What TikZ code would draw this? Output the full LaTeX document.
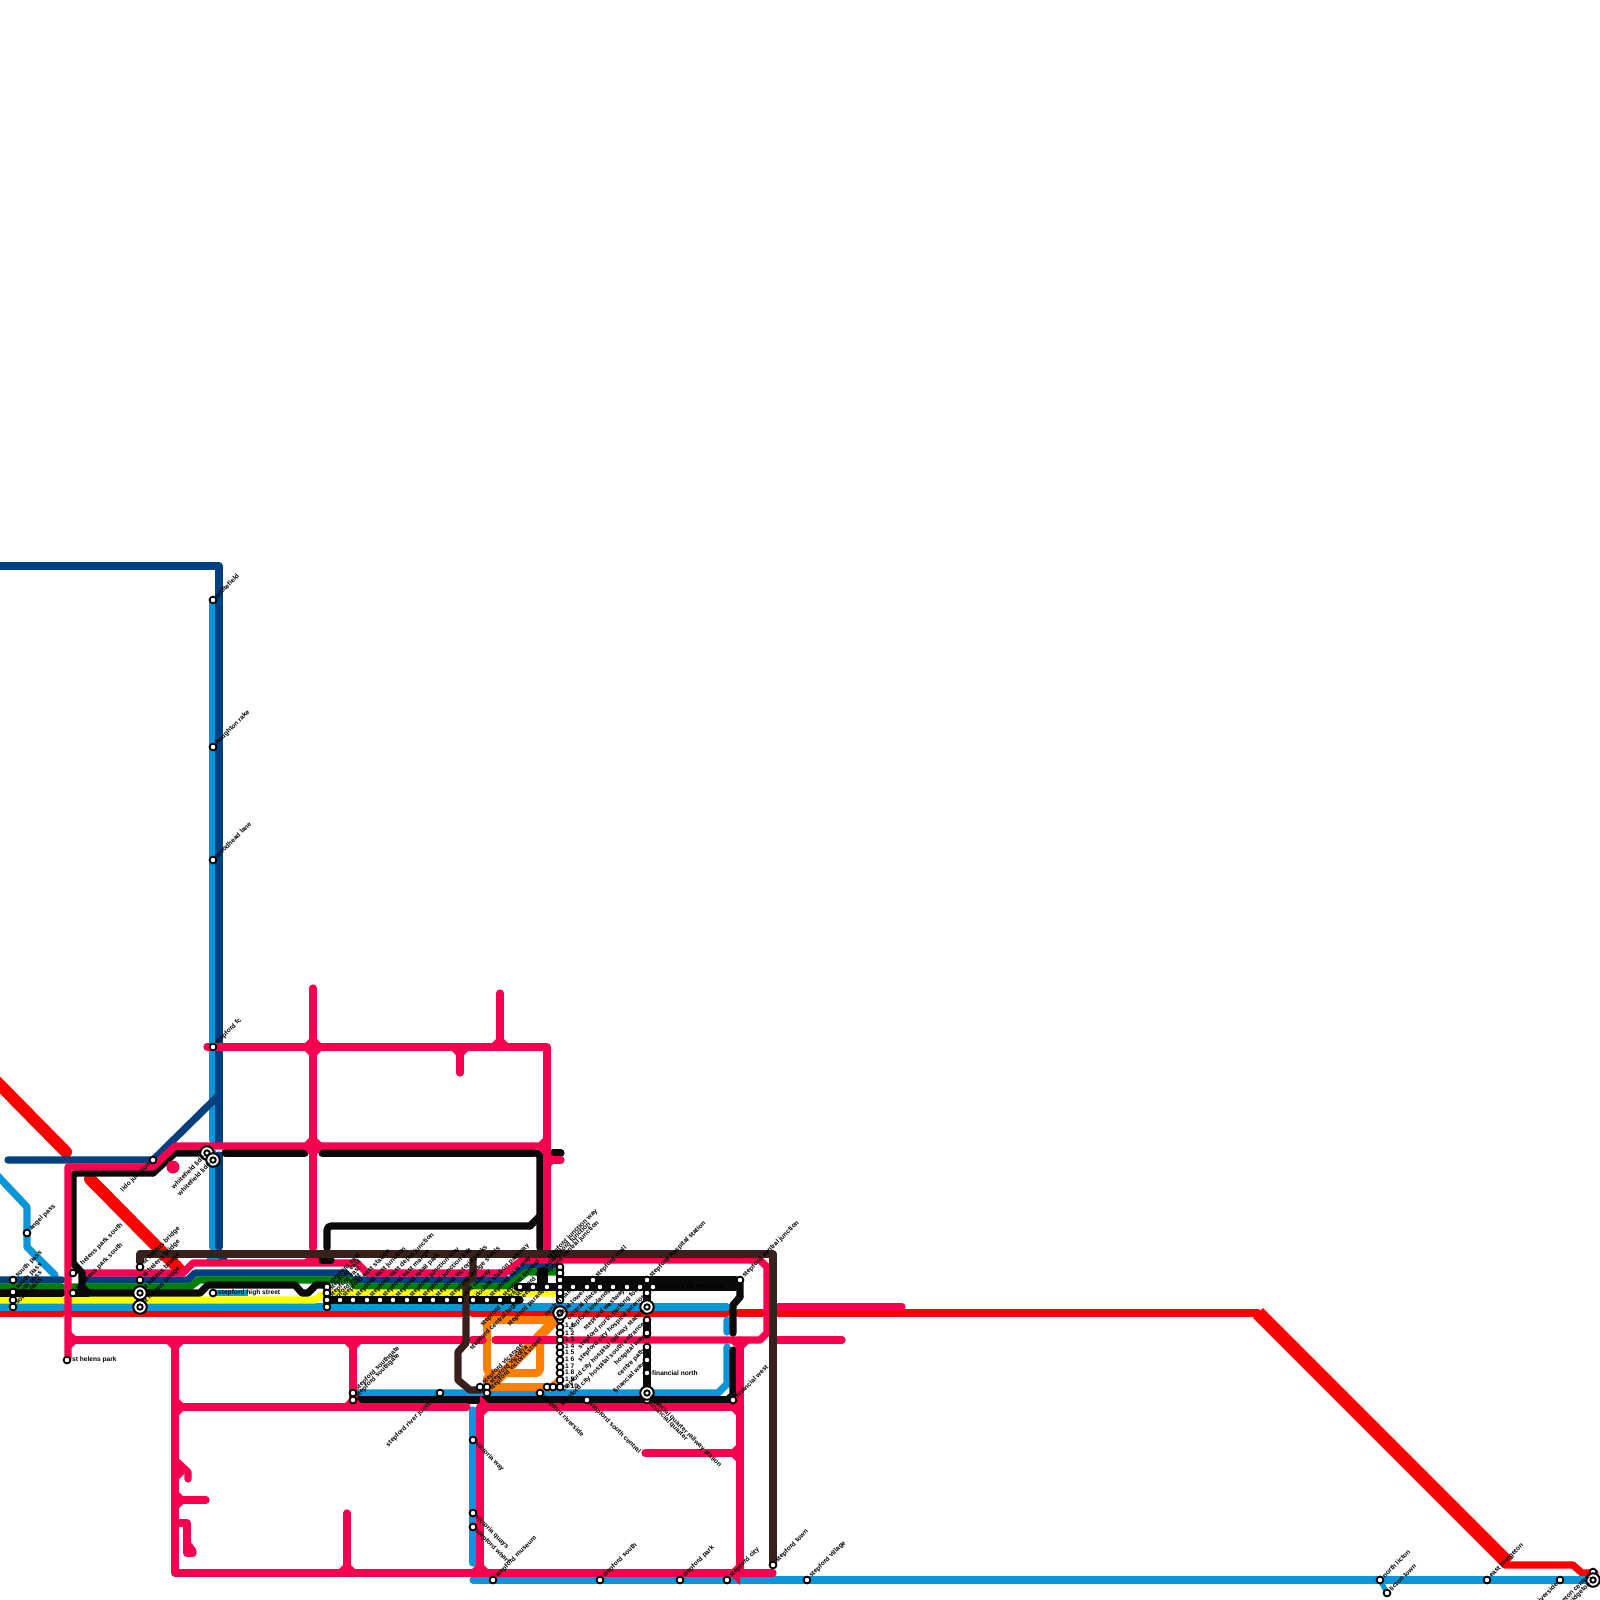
\documentclass[tikz,border=0pt]{standalone}
\usepackage{fontspec}
\setmainfont{Liberation Sans}
\definecolor{pk}{HTML}{F80050}
\definecolor{rd}{HTML}{FF0000}
\definecolor{lb}{HTML}{0A96D8}
\definecolor{nv}{HTML}{004080}
\definecolor{gn}{HTML}{008000}
\definecolor{bk}{HTML}{0A0A0A}
\definecolor{yl}{HTML}{FFFF00}
\definecolor{br}{HTML}{38201C}
\definecolor{og}{HTML}{FF8000}
\tikzset{
 ln/.style={line width=7.2pt,line cap=round,line join=round},
 pkl/.style={ln,draw=pk},rdl/.style={ln,draw=rd},lbl/.style={ln,draw=lb},nvl/.style={ln,draw=nv},
 gnl/.style={ln,draw=gn},bkl/.style={ln,draw=bk},yll/.style={ln,draw=yl},brl/.style={ln,draw=br},ogl/.style={ln,draw=og,line width=8pt},
 stn/.style={circle,draw=black,fill=white,line width=1.8pt,minimum size=6.8pt,inner sep=0pt},
 dbl/.style={circle,draw=black,fill=white,line width=2pt,minimum size=13.5pt,inner sep=0pt},
 dbi/.style={circle,draw=black,fill=white,line width=1.9pt,minimum size=5.4pt,inner sep=0pt},
 txt/.style={inner sep=0pt,font=\fontsize{6.6}{7}\selectfont\bfseries,text=black},
 ur/.style={txt,rotate=45,anchor=west,xshift=4.5pt},
 dr/.style={txt,rotate=-45,anchor=west,xshift=4.5pt},
 dl/.style={txt,rotate=45,anchor=east,xshift=-4.5pt},
 hz/.style={txt,anchor=west,xshift=5pt},
}
\begin{document}
\begin{tikzpicture}[x=1pt,y=-1pt]
\useasboundingbox (0,0) rectangle (1600,1600);
\fill[white] (0,0) rectangle (1600,1600);
% red
\draw[rdl,line width=12pt] (-5,1080)--(66,1152);
\draw[rdl,line width=12pt] (90,1179)--(180,1270);
\draw[rdl] (-5,1313)--(62,1313) (72,1313)--(462,1313) (472,1313)--(727,1313) (738,1313)--(762,1313) (778,1313)--(1258,1313);
\draw[rd,line width=14pt,line join=round] (1258,1313)--(1508,1563);
\draw[rdl] (1505,1565)--(1573,1565)--(1582,1573)--(1595,1573);
% blue
\draw[lbl] (213,600)--(213,1140) (213,1153)--(213,1247);
\draw[lbl] (-5,1173)--(27,1207)--(27,1247)--(55,1275);
\draw[lbl] (-5,1307)--(62,1307) (72,1307)--(462,1307) (472,1307)--(727,1307);
\draw[lbl] (358,1393)--(718,1393)--(727,1384)--(727,1347) (727,1320)--(727,1332);
\draw[lbl] (473,1410)--(473,1563);
\draw[lbl] (473,1580)--(1600,1580);
\draw[lb,line width=5pt] (1380,1580)--(1387,1593);
\draw[lbl] (210,1260)--(216,1260);
\draw[lb,line width=6pt] (215,1293)--(248,1293);
% navy
\draw[nvl] (-5,566)--(219,566)--(219,1142) (219,1155)--(219,1247);
\draw[nvl] (8,1160)--(153,1160)--(219,1095);
\draw[nvl] (222,1260)--(224,1260);
\draw[nvl] (-5,1280)--(62,1280) (83,1280)--(188,1280)--(195,1273)--(345,1273)--(352,1280)--(510,1280)--(527,1265)--(557,1265);
% pink band + others
\draw[pkl] (83,1273)--(183,1273)--(193,1263)--(357,1263)--(367,1273)--(505,1273)--(522,1260)--(760,1260)--(767,1267)--(767,1333)--(760,1340)--(570,1340);
\fill[pk] (301,1263)--(313,1251)--(325,1263)--cycle;
% green
\draw[gnl] (-5,1287)--(62,1287) (72,1287)--(190,1287)--(199,1280)--(350,1280)--(357,1287)--(507,1287)--(527,1272)--(557,1272);
% yellow
\draw[yll] (-5,1300)--(62,1300) (72,1300)--(315,1300)--(325,1293)--(560,1293);
% black
\draw[bkl] (-5,1293)--(62,1293) (72,1293)--(88,1293);
\begin{scope}[bkl]
\draw[rounded corners=4pt] (73,1263)--(73,1173)--(153,1173);
\draw (153,1173)--(175,1153)--(200,1153);
\draw (73,1263)--(82,1273)--(82,1287)--(88,1293)--(200,1293)--(208,1285)--(295,1285)--(302,1293)--(308,1293)--(316,1285)--(327,1285)--(327,1307);
\draw (225,1153)--(305,1153) (322,1153)--(533,1153);
\draw[rounded corners=4pt] (533,1153)--(540,1153)--(540,1248);
\draw[rounded corners=4pt] (327,1248)--(327,1226)--(530,1226);
\draw (530,1226)--(540,1216);
\draw (322,1260)--(331,1260);
\draw (327,1300)--(520,1300);
\draw (517,1287)--(735,1287);
\draw (560,1280)--(735,1280);
\draw[rounded corners=3pt] (735,1280)--(740,1280)--(740,1297);
\draw (740,1297)--(733,1305)--(733,1333);
\draw (733,1350)--(733,1395)--(727,1400);
\draw (358,1400)--(730,1400);
\draw (647,1282)--(647,1305) (647,1320)--(647,1335) (647,1347)--(647,1398);
\draw (553,1153)--(561,1153);
\draw (560,1267)--(560,1300);
\end{scope}
\fill[bk] (537,1268) rectangle (548,1287);
% orange
\begin{scope}[ogl,rounded corners=4pt]
\draw (540,1345)--(540,1373)--(487,1373)--(487,1320)--(552,1320);
\draw (487,1378)--(487,1387)--(553,1387)--(560,1380);
\end{scope}
\draw[og,line width=10pt,line cap=round] (492,1385)--(555,1320);
% pink network
\begin{scope}[pkl]
\draw (207,1047)--(547,1047)--(547,1250);
\draw (313,988)--(313,1248);
\draw (500,993)--(500,1047) (460,1047)--(460,1073);
\draw (68,1358)--(68,1167)--(153,1167)--(175,1146)--(547,1146);
\draw (547,1160)--(561,1160);
\draw (73,1340)--(462,1340) (472,1340)--(483,1340) (495,1340)--(565,1340);
\draw (778,1340)--(842,1340);
\draw (778,1307)--(902,1307);
\draw (175,1340)--(175,1573)--(773,1573);
\draw (175,1407)--(467,1407) (480,1407)--(740,1407);
\draw (353,1340)--(353,1407);
\draw (347,1513)--(347,1573);
\draw (480,1407)--(480,1573);
\draw (740,1340)--(740,1573);
\draw (645,1453)--(740,1453);
\draw (175,1460)--(188,1472)--(188,1479);
\draw (175,1500)--(206,1500);
\draw (175,1523)--(187,1523)--(187,1553)--(193,1553);
\draw (187,1543)--(193,1551);
\end{scope}
\foreach \x/\y in {313/1047,313/1146}{\fill[pk] (\x-12,\y)--(\x,\y-12)--(\x+12,\y)--(\x,\y+12)--cycle;}
\foreach \x/\y in {175/1340,353/1340,460/1047,740/1340}{\fill[pk] (\x-12,\y)--(\x+12,\y)--(\x,\y+12)--cycle;}
\foreach \x/\y in {500/1047,347/1573,353/1407}{\fill[pk] (\x-12,\y)--(\x+12,\y)--(\x,\y-12)--cycle;}
\foreach \x/\y in {175/1407,480/1407,175/1500}{\fill[pk] (\x,\y-12)--(\x,\y+12)--(\x+12,\y)--cycle;}
\foreach \x/\y in {547/1146,740/1407,740/1453,740/1573}{\fill[pk] (\x,\y-12)--(\x,\y+12)--(\x-12,\y)--cycle;}
\fill[pk] (67,1328)--(80,1340)--(67,1352)--cycle;
\fill[pk] (175,1455)--(189,1469)--(175,1483)--cycle;
\fill[pk] (480,1561)--(492,1573)--(468,1573)--cycle;
\fill[pk] (547,1150)--(557,1160)--(547,1170)--cycle;
\fill[pk] (173,1167) circle (6.5pt);
% brown
\draw[brl] (140,1262)--(140,1254)--(773,1254)--(773,1565);
\draw[brl] (473,1254)--(473,1277)--(466,1283)--(466,1343)--(458,1352)--(458,1380)--(470,1390)--(480,1390);
% stations
\foreach \x/\y in {27/1233,13/1280,13/1292,13/1300,13/1307,73/1273,73/1293,140/1267,140/1280,67/1360,153/1160,213/1293,
 213/600,213/747,213/860,213/1047,
 327/1287,327/1293,327/1300,327/1307,
 340/1300,353/1300,367/1300,380/1300,393/1300,407/1300,420/1300,433/1300,447/1300,460/1300,473/1300,487/1300,500/1300,513/1300,
 520/1287,533/1287,547/1287,560/1287,573/1287,587/1287,600/1287,613/1287,627/1287,640/1287,653/1287,
 593/1280,647/1280,740/1280,647/1293,647/1320,647/1333,647/1347,647/1360,647/1373,647/1400,733/1400,
 560/1267,560/1273,560/1280,560/1293,560/1300,
 560/1320,560/1327,560/1333,560/1340,560/1347,560/1353,560/1360,560/1367,560/1373,560/1380,560/1387,
 480/1387,487/1387,487/1393,540/1393,547/1387,553/1387,587/1400,440/1393,353/1393,353/1400,
 473/1440,473/1513,473/1527,493/1580,600/1580,680/1580,727/1580,773/1565,807/1580,1380/1580,1387/1593,1487/1580,1560/1580,1593/1572}
 {\node[stn] (s\x-\y) at (\x,\y) {};}
\foreach \x/\y in {207/1153,213/1160,140/1293,140/1307,560/1313,647/1307,647/1393,1593/1580}
 {\node[dbl] (d\x-\y) at (\x,\y) {}; \node[dbi] (i\x-\y) at (\x,\y) {};}
% labels
\foreach \x/\y/\t in {27/1233/angel pass,13/1280/south pass,13/1292/south pass,13/1300/south pass,13/1307/south pass,
 73/1273/st helens park south,73/1293/st helens park south,140/1267/st helens bridge,140/1280/st helens bridge,140/1293/st helens bridge,140/1307/st helens bridge,
 213/600/whitefield,213/747/houghton rake,213/860/woodhead lane,213/1047/stepford fc,
 327/1287/stepford east,327/1293/stepford east,327/1300/stepford east,327/1307/stepford east,
 340/1300/stepford east station,353/1300/stepford east junction,367/1300/stepford east depot junction,380/1300/stepford east mange,393/1300/stepford retail park,407/1300/stepford junction way,420/1300/stepford junction salt,433/1300/stepford victoria parks,447/1300/stepford bridge sheds,460/1300/east railway,473/1300/double station parkway,487/1300/stepford east way,500/1300/stepford central,513/1300/stepford cathedral,
 545/1262/stepford junction way,548/1265/stepford junction,540/1280/stepford central junction,
 593/1280/stepford mall,647/1280/stepford hospital station,740/1280/stepford central junction,733/1400/financial west,
 353/1393/stepford southgate,353/1400/stepford southgate,480/1387/stepford vicarage,487/1387/stepford victoria,487/1393/stepford victoria street,
 493/1580/stepford museum,600/1580/stepford south,680/1580/stepford park,727/1580/stepford city,773/1565/stepford town,807/1580/stepford village,
 1380/1580/north licton,1387/1593/licton town,1487/1580/east bridgeton}
 {\node[ur] (u\x-\y) at (\x,\y) {\t};}
\foreach \x/\y/\t in {153/1160/lido junction,207/1153/whitefield lido,213/1160/whitefield lido,440/1393/stepford river junction,
 520/1287/stepford central,533/1287/stepford central highstreet,547/1287/stepford parade,573/1287/central hall,587/1287/central tower,
 600/1287/central place,613/1287/stepford lowlands,627/1287/stepford westway,640/1287/stepford north parking for,
 647/1293/stepford city hospital interior,647/1307/stepford city hospital railway station,647/1320/stepford city hospital south entrance,647/1333/hospital way,647/1347/centre path,647/1360/financial way,
 1560/1580/riverside,1593/1572/bridgeton central,1593/1580/bridgeton}
 {\node[dl] (l\x-\y) at (\x,\y) {\t};}
\foreach \x/\y/\t in {540/1393/stepford riverside,587/1400/stepford south central,647/1393/financial quarter railway station,647/1400/financial quarter,473/1440/victoria way,473/1513/victoria quays,473/1527/stepford wharf}
 {\node[dr] (r\x-\y) at (\x,\y) {\t};}
\foreach \x/\y/\t in {67/1360/st helens park,213/1293/stepford high street,653/1287/stepford far westway,647/1373/financial north}
 {\node[hz] (h\x-\y) at (\x,\y) {\t};}
\foreach \n/\y in {1/1325,2/1333,3/1339,4/1346,5/1352,6/1359,7/1366,8/1372,9/1379,10/1386}
 {\node[hz,xshift=-2pt] (n\n) at (562,\y) {1 \n};}
\end{tikzpicture}
\end{document}
